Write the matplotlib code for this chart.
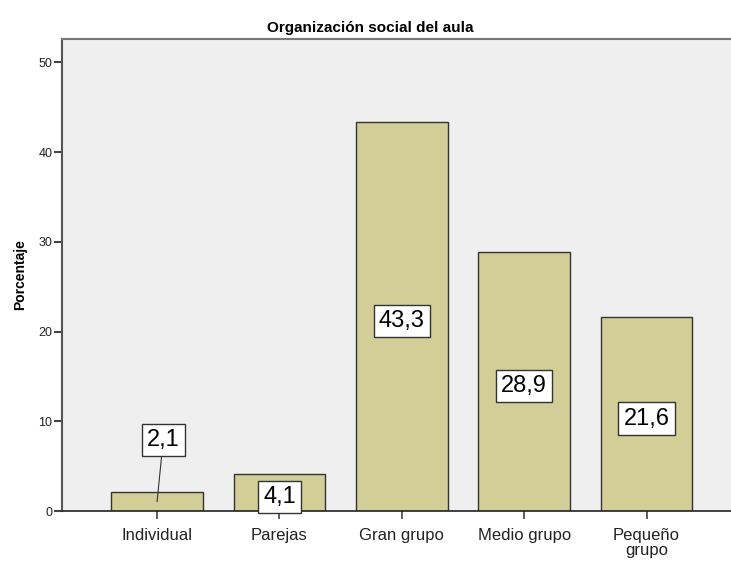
import matplotlib.pyplot as plt
import numpy as np

plt.rcParams['font.family'] = ['Liberation Sans', 'DejaVu Sans']

categorias = ['Individual', 'Parejas', 'Gran grupo', 'Medio grupo', 'Pequeño\ngrupo']
porcentajes = [2.1, 4.1, 43.3, 28.9, 21.6]
yticks = [0, 10, 20, 30, 40, 50]

fig = plt.figure(figsize=(7.31, 5.63), dpi=100)
ax = fig.add_axes([62 / 731, 1 - 511 / 563, 669 / 731, 472 / 563])
ax.set_facecolor('#efefef')

x = np.arange(len(categorias))
ax.bar(x, porcentajes, width=0.75, color='#d3ce98', edgecolor='#333333', linewidth=1.0, zorder=2)

box = dict(boxstyle='square,pad=0.22', facecolor='white', edgecolor='#333333', linewidth=1.0)
for i, v in enumerate(porcentajes):
    txt = f'{v:.1f}'.replace('.', ',')
    if i == 0:
        # small bar: label moved up with a leader line
        ax.annotate(txt, xy=(i, v / 2), xytext=(i + 0.05, 7.9), ha='center', va='center',
                    fontsize=17, bbox=box, zorder=4,
                    arrowprops=dict(arrowstyle='-', color='#333333', lw=0.8, shrinkA=0, shrinkB=0))
    else:
        ax.text(i, v / 2 - 0.5, txt, ha='center', va='center', fontsize=17,
                bbox=box, zorder=4)

ax.set_xlim(-0.777, 4.69)
ax.set_ylim(0, 52.6)
ax.set_xticks(x)
ax.set_xticklabels(categorias, fontsize=12, linespacing=1.05, color='#222222')
ax.set_yticks(yticks)
ax.tick_params(axis='y', labelsize=9, length=6, width=1.5, color='#444444', pad=1, labelcolor='#222222')
ax.tick_params(axis='x', length=6, width=1.2, color='#444444', pad=6)

for s in ['top', 'right']:
    ax.spines[s].set_visible(False)
ax.spines['left'].set_linewidth(1.5)
ax.spines['left'].set_color('#555555')
ax.spines['bottom'].set_linewidth(1.2)
ax.spines['bottom'].set_color('#222222')
ax.plot([-0.777, 4.69], [52.6, 52.6], color='#777777', lw=1.5, clip_on=False, zorder=3)

ax.set_ylabel('Porcentaje', fontsize=10, fontweight='bold', labelpad=8)
fig.text(370 / 731, 1 - 28 / 563, 'Organización social del aula', ha='center', va='center',
         fontsize=11, fontweight='bold')

fig.savefig('out.png', dpi=100)
